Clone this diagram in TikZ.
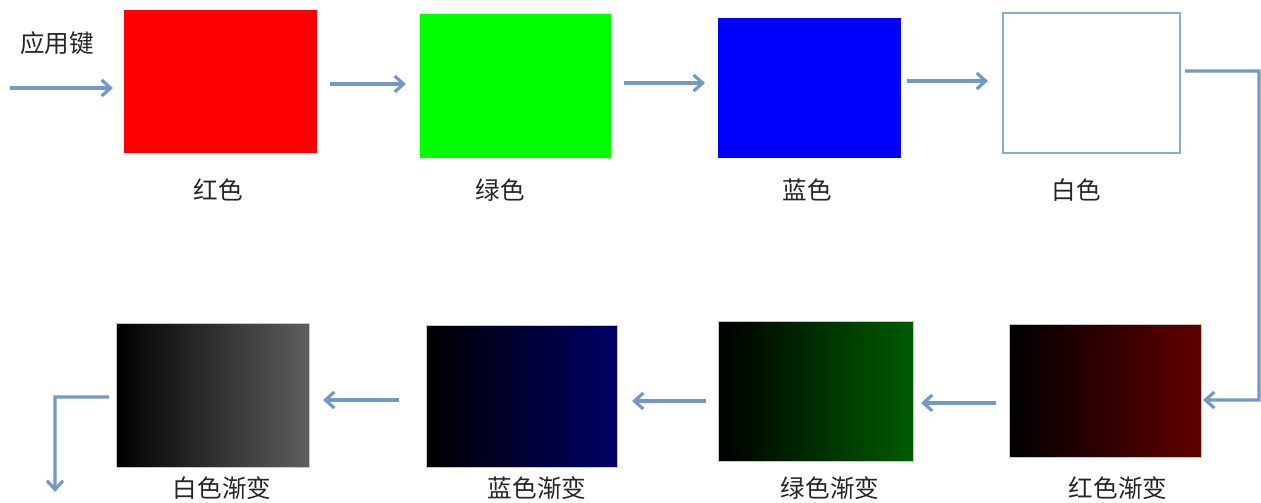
\documentclass[tikz,border=0pt]{standalone}
\usepackage{fontspec}
\newfontfamily\cjk{Noto Sans CJK SC}
\usetikzlibrary{arrows.meta}
\definecolor{arrowblue}{HTML}{7399C6}
\definecolor{boxedge}{HTML}{8EAAD3}
\definecolor{txt}{HTML}{262626}
\begin{document}
\begin{tikzpicture}[x=0.02cm,y=-0.02cm,
  box/.style={rectangle, inner sep=0pt, outer sep=0pt},
  gbox/.style={box, draw=gray!45, line width=0.4pt},
  lbl/.style={font=\cjk\fontsize{14}{16}\selectfont, text=txt, inner sep=0pt},
  arr/.style={draw=arrowblue, line width=1.8pt, -{Straight Barb[length=0.18cm,width=0.32cm,line width=1.8pt]}}]
\useasboundingbox (0,0) rectangle (1261,503);
\fill[white] (0,0) rectangle (1261,503);
% top row
\node[box, fill=red, minimum width=3.86cm, minimum height=2.86cm] (red) at (220.5,81.5) {};
\node[box, fill=green, minimum width=3.82cm, minimum height=2.88cm] (green) at (515.5,86) {};
\node[box, fill=blue, minimum width=3.66cm, minimum height=2.80cm] (blue) at (809.5,88) {};
\node[box, draw=boxedge, line width=1.2pt, fill=white, minimum width=3.54cm, minimum height=2.80cm] (white) at (1091.5,83) {};
% bottom row
\node[gbox, left color=black, right color=red!38!black, minimum width=3.84cm, minimum height=2.66cm] (rgrad) at (1105,390.5) {};
\node[gbox, left color=black, right color=green!36!black, minimum width=3.90cm, minimum height=2.80cm] (ggrad) at (815.5,391) {};
\node[gbox, left color=black, right color=blue!40!black, minimum width=3.82cm, minimum height=2.84cm] (bgrad) at (521.5,396) {};
\node[gbox, left color=black, right color=white!37!black, minimum width=3.86cm, minimum height=2.88cm] (wgrad) at (212.5,395) {};
% labels
\node[lbl] (lkey) at (57,43) {应用键};
\node[lbl] (lred) at (218,190) {红色};
\node[lbl] (lgreen) at (500,190) {绿色};
\node[lbl] (lblue) at (807,190) {蓝色};
\node[lbl] (lwhite) at (1076,190) {白色};
\node[lbl] (lrgrad) at (1118,488) {红色渐变};
\node[lbl] (lggrad) at (830,488) {绿色渐变};
\node[lbl] (lbgrad) at (537,488) {蓝色渐变};
\node[lbl] (lwgrad) at (222,488) {白色渐变};
% coordinates
\coordinate (in) at (10,88);
\coordinate (rc) at (1259,400);
\coordinate (lc) at (55,397);
\coordinate (out) at (55,492);
% connectors
\draw[arr, shorten >=0.22cm] (in) -- (in -| red.west);
\draw[arr, shorten <=0.26cm, shorten >=0.28cm] ([yshift=-0.05cm]red.east) -- ([yshift=-0.05cm]red.east -| green.west);
\draw[arr, shorten <=0.26cm, shorten >=0.26cm] ([yshift=0.06cm]green.east) -- ([yshift=0.06cm]green.east -| blue.west);
\draw[arr, shorten <=0.12cm, shorten >=0.30cm] ([yshift=0.14cm]blue.east) -- ([yshift=0.14cm]blue.east -| white.west);
\draw[arr, shorten <=0.1cm, shorten >=0.04cm] ([yshift=0.24cm]white.east) -| (rc) -- ([yshift=-0.19cm]rgrad.east);
\draw[arr, shorten <=0.26cm, shorten >=0.16cm] ([yshift=-0.25cm]rgrad.west) -- ([yshift=-0.25cm]rgrad.west -| ggrad.east);
\draw[arr, shorten <=0.24cm, shorten >=0.30cm] ([yshift=-0.2cm]ggrad.west) -- ([yshift=-0.2cm]ggrad.west -| bgrad.east);
\draw[arr, shorten <=0.54cm, shorten >=0.28cm] ([yshift=-0.08cm]bgrad.west) -- ([yshift=-0.08cm]bgrad.west -| wgrad.east);
\draw[arr, shorten <=0.14cm] ([yshift=-0.04cm]wgrad.west) -- (lc) -- (out);
\end{tikzpicture}
\end{document}
